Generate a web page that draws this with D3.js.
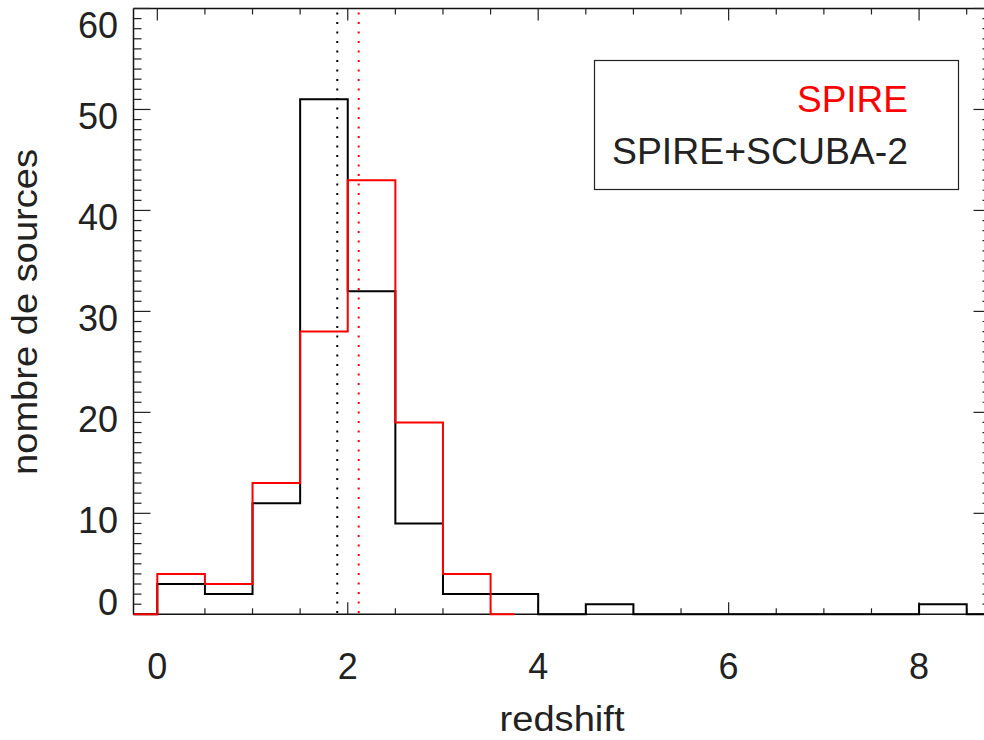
<!DOCTYPE html>
<html>
<head>
<meta charset="utf-8">
<script src="https://cdn.jsdelivr.net/npm/d3@7"></script>
<style>
  html, body { margin: 0; padding: 0; background: #fff; }
  svg { display: block; }
  text { font-family: "Liberation Sans", Arial, Helvetica, sans-serif; }
</style>
</head>
<body>
<svg id="chart" width="984" height="740"></svg>
<script>
// ---- data ----
const blackCenters = [-0.25, 0.25, 0.75, 1.25, 1.75, 2.25, 2.75, 3.25, 3.75, 4.25, 4.75, 5.25, 5.75, 6.25, 6.75, 7.25, 7.75, 8.25, 8.75];
const spireScuba2Counts = [0, 3, 2, 11, 51, 32, 9, 2, 2, 0, 1, 0, 0, 0, 0, 0, 0, 1, 0];
const redCenters = [-0.25, 0.25, 0.75, 1.25, 1.75, 2.25, 2.75, 3.25, 3.75];
const spireCounts = [0, 4, 3, 13, 28, 43, 19, 4, 0];
const medianLines = [1.89, 2.115];           // black, red
const xTickLabels = [0, 2, 4, 6, 8];
const yTickLabels = [0, 10, 20, 30, 40, 50, 60];
const legendLabels = ["SPIRE", "SPIRE+SCUBA-2"];
const axisTitles = ["redshift", "nombre de sources"];

// ---- layout ----
const svg = d3.select("#chart");
const L = 133.5, R = 990.5, T = 8.5, B = 614.3;
const x = d3.scaleLinear().domain([-0.25, 8.75]).range([L, R]);
const y = d3.scaleLinear().domain([0, 60]).range([B, T]);

const fs = 36;

// axes box
const g = svg.append("g");
g.append("line").attr("x1", L).attr("x2", R).attr("y1", B).attr("y2", B).attr("stroke", "#111").attr("stroke-width", 1.5);
g.append("line").attr("x1", L).attr("x2", R).attr("y1", T).attr("y2", T).attr("stroke", "#111").attr("stroke-width", 1.5);
g.append("line").attr("x1", L).attr("x2", L).attr("y1", T).attr("y2", B).attr("stroke", "#111").attr("stroke-width", 1.5);
g.append("line").attr("x1", R).attr("x2", R).attr("y1", T).attr("y2", B).attr("stroke", "#111").attr("stroke-width", 1.5);

// x ticks (bottom & top)
const xMinor = d3.range(0, 8.51, 0.5);
xMinor.forEach(v => {
  const major = Math.abs(v - Math.round(v / 2) * 2) < 1e-6;
  const len = major ? 12 : 6;
  const px = x(v);
  g.append("line").attr("x1", px).attr("x2", px).attr("y1", B).attr("y2", B - len).attr("stroke", "#222").attr("stroke-width", 1.2);
  g.append("line").attr("x1", px).attr("x2", px).attr("y1", T).attr("y2", T + len).attr("stroke", "#222").attr("stroke-width", 1.2);
});
// y ticks (left & right)
d3.range(0, 60.1, 1).forEach(v => {
  const major = v % 10 === 0;
  const len = major ? 17 : 8;
  const py = y(v);
  g.append("line").attr("x1", L).attr("x2", L + len).attr("y1", py).attr("y2", py).attr("stroke", "#222").attr("stroke-width", 1.2);
  g.append("line").attr("x1", R).attr("x2", R - len).attr("y1", py).attr("y2", py).attr("stroke", "#222").attr("stroke-width", 1.2);
});

// tick labels
g.selectAll(".xl").data(xTickLabels).enter().append("text")
  .attr("x", d => x(d)).attr("y", 679).attr("text-anchor", "middle")
  .attr("font-size", fs).attr("fill", "#222").text(d => d);
g.selectAll(".yl").data(yTickLabels).enter().append("text")
  .attr("x", 118).attr("y", d => Math.max(38, Math.min(615, y(d) + 19.3)))
  .attr("text-anchor", "end").attr("font-size", fs).attr("fill", "#222").text(d => d);

// axis titles
g.append("text").attr("x", 562).attr("y", 731).attr("text-anchor", "middle")
  .attr("font-size", 35).attr("fill", "#222").attr("textLength", 125).attr("lengthAdjust", "spacingAndGlyphs")
  .text(axisTitles[0]);
g.append("text").attr("transform", "translate(37,312) rotate(-90)").attr("text-anchor", "middle")
  .attr("font-size", 35).attr("fill", "#222").attr("textLength", 326).attr("lengthAdjust", "spacingAndGlyphs")
  .text(axisTitles[1]);

// median dotted lines
const medColors = ["#000", "#ff0000"];
g.selectAll(".med").data(medianLines).enter().append("line")
  .attr("x1", d => x(d)).attr("x2", d => x(d)).attr("y1", T + 4).attr("y2", B)
  .attr("stroke", (d, i) => medColors[i]).attr("stroke-width", 2)
  .attr("stroke-dasharray", "2,7.5");

// histograms (psym=10 style steps)
const step = d3.line().x(d => x(d[0])).y(d => y(d[1])).curve(d3.curveStep);
g.append("path").attr("d", step(blackCenters.map((c, i) => [c, spireScuba2Counts[i]])))
  .attr("fill", "none").attr("stroke", "#000").attr("stroke-width", 2);
g.append("path").attr("d", step(redCenters.map((c, i) => [c, spireCounts[i]])))
  .attr("fill", "none").attr("stroke", "#ff0000").attr("stroke-width", 2);

// legend
g.append("rect").attr("x", 594.5).attr("y", 60.5).attr("width", 364).attr("height", 129)
  .attr("fill", "#fff").attr("stroke", "#222").attr("stroke-width", 1.2);
g.append("text").attr("x", 908).attr("y", 112).attr("text-anchor", "end")
  .attr("font-size", 37).attr("fill", "#ff0000").text(legendLabels[0]);
g.append("text").attr("x", 612).attr("y", 163.5)
  .attr("font-size", 37).attr("fill", "#222").attr("textLength", 296).attr("lengthAdjust", "spacingAndGlyphs")
  .text(legendLabels[1]);
</script>
</body>
</html>
